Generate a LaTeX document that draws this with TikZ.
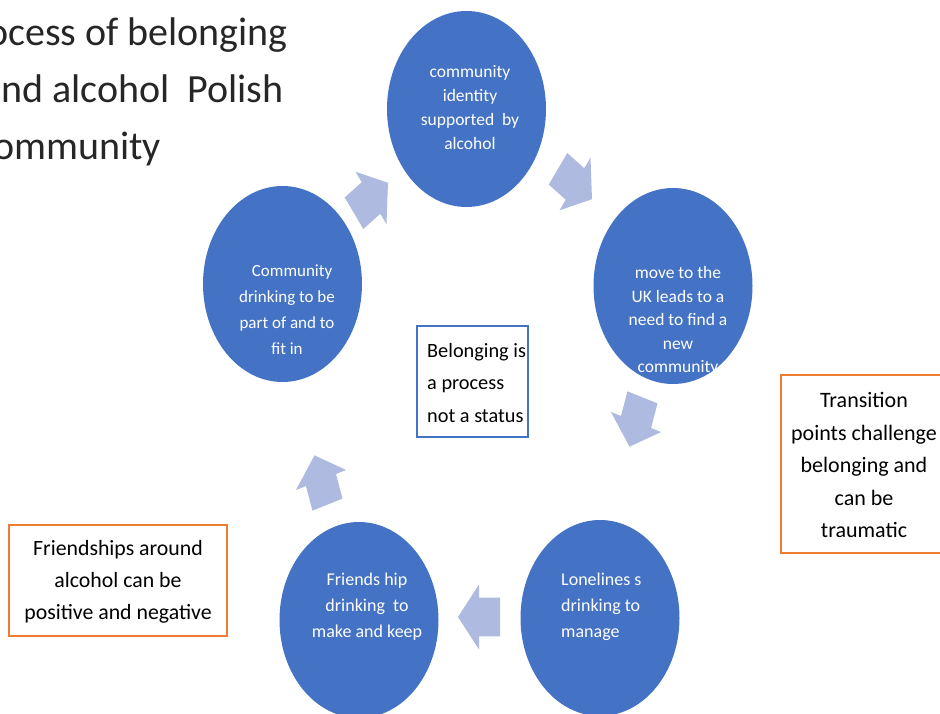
\documentclass[tikz,border=0pt]{standalone}
\usepackage{fontspec}
\setmainfont{Carlito}
\usetikzlibrary{shapes.geometric}
\definecolor{ellblue}{HTML}{4472C4}
\definecolor{arrblue}{HTML}{AEBAE0}
\definecolor{boxorange}{HTML}{ED7D31}
\definecolor{titlegrey}{HTML}{262626}
\tikzset{
  pics/barrow/.style={code={
    \fill[arrblue] (-21,-15.8) -- (0,-15.8) -- (0,-26.35) -- (21,0) -- (0,26.35) -- (0,15.8) -- (-21,15.8) -- cycle;}}
}
\begin{document}
\begin{tikzpicture}[x=1pt,y=-1pt,
  circ/.style={ellipse, fill=ellblue, draw=none, minimum width=159pt, minimum height=196pt, inner sep=0pt},
  ctext/.style={text=white, align=center, font=\fontsize{17.5}{24}\selectfont, inner sep=0pt},
  bluebox/.style={draw=ellblue, line width=1.2pt, fill=white},
  orangebox/.style={draw=boxorange, line width=1.2pt, fill=white},
  btext/.style={font=\fontsize{22}{32.5}\selectfont, text=black, inner sep=0pt, align=center},
  titletext/.style={font=\fontsize{40}{48}\selectfont, text=titlegrey, inner sep=0pt, anchor=base east}]
\useasboundingbox (0,0) rectangle (940,713);

% title
\node[titletext] (t1) at (288,45) {ocess of belonging};
\node[titletext] (t2) at (284,102) {nd alcohol~ Polish};
\node[titletext] (t3) at (161,159) {ommunity};

% ellipses
\node[circ] (top) at (466.5,109) {};
\node[circ] (right) at (673,286) {};
\node[circ] (bright) at (600,618) {};
\node[circ] (bleft) at (359,620) {};
\node[circ] (left) at (282.5,284) {};

% ellipse texts
\node[ctext] (toptext) at (470,108) {community\\identity\\supported~ by\\alcohol};
\node[ctext, font=\fontsize{17.5}{23.5}\selectfont] (righttext) at (678,321) {move to the\\UK leads to a\\need to find a\\new\\community};
\node[ctext, font=\fontsize{17}{26}\selectfont] (lefttext) at (287,310) {\hspace{0.6em}Community\\drinking to be\\part of and to\\fit in};
\node[ctext, font=\fontsize{18}{26}\selectfont] (blefttext) at (367,607) {Friends hip\\drinking~ to\\make and keep};
\node[ctext, font=\fontsize{18}{26}\selectfont, align=left, anchor=west] (brighttext) at (561,607) {Lonelines s\\drinking to\\manage};

% block arrows (cycle stretched vertically)
\pic[yscale=1.233, rotate=36] (a1) at (371,198) {barrow};
\pic[yscale=1.233, rotate=-36] (a2) at (575,184) {barrow};
\pic[yscale=1.233, rotate=-108] (a3) at (636,422) {barrow};
\pic[yscale=1.233, rotate=180] (a4) at (479,617) {barrow};
\pic[yscale=1.233, rotate=108] (a5) at (321,480) {barrow};

% boxes
\node[bluebox, minimum width=111pt, minimum height=111pt] (belbox) at (472.5,381.5) {};
\node[btext, font=\fontsize{20.3}{32.5}\selectfont, align=left, anchor=west] (beltext) at (427,383) {Belonging is\\a process\\not a status};
\node[orangebox, minimum width=166pt, minimum height=178pt] (transbox) at (864,464) {};
\node[btext] (transtext) at (864,465) {Transition\\points challenge\\belonging and\\can be\\traumatic};
\node[orangebox, minimum width=218pt, minimum height=111pt] (friendbox) at (118,580.5) {};
\node[btext, font=\fontsize{21.8}{32}\selectfont] (friendtext) at (118,582) {Friendships around\\alcohol can be\\positive and negative};
\end{tikzpicture}
\end{document}
